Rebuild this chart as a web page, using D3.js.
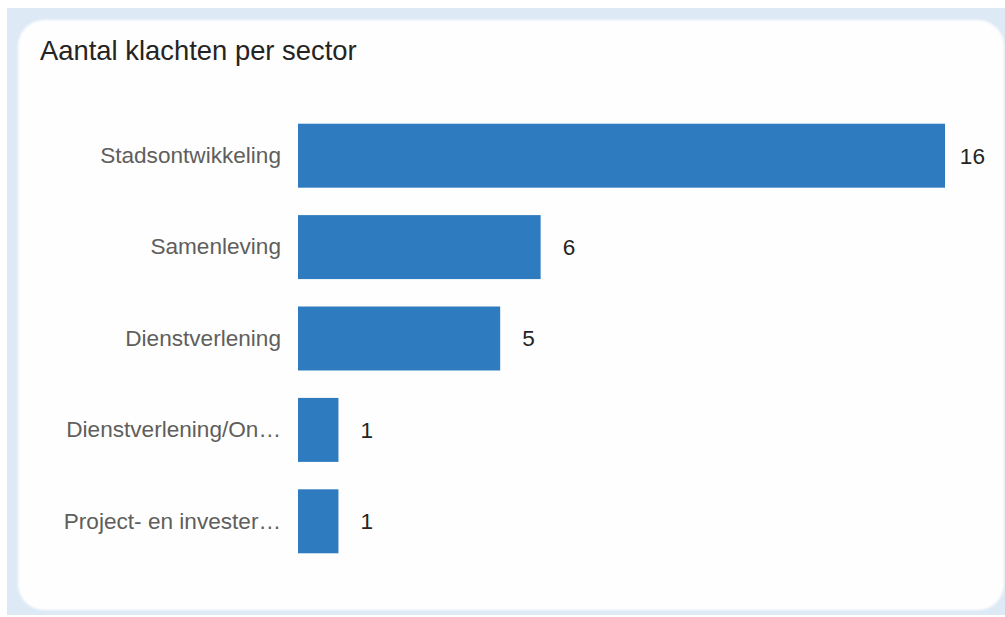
<!DOCTYPE html>
<html>
<head>
<meta charset="utf-8">
<script src="https://cdn.jsdelivr.net/npm/d3@7"></script>
<style>
  html, body { margin: 0; padding: 0; background: #ffffff; }
  svg { display: block; }
</style>
</head>
<body>
<svg id="chart" width="1005" height="617"></svg>
<script>
// Complaints per sector
const categories = [
  "Stadsontwikkeling",
  "Samenleving",
  "Dienstverlening",
  "Dienstverlening/On\u2026",
  "Project- en invester\u2026"
];
const values = [16, 6, 5, 1, 1];
const title = "Aantal klachten per sector";

const data = categories.map((c, i) => ({ category: c, value: values[i] }));

const W = 1005, H = 617;
const svg = d3.select("#chart");
const font = "'Liberation Sans', Arial, sans-serif";

// page backdrop and card
svg.append("rect").attr("x", 7).attr("y", 8).attr("width", W - 7).attr("height", 607)
  .attr("fill", "#dde9f5");

const defs = svg.append("defs");
const f = defs.append("filter").attr("id", "soft").attr("x", "-5%").attr("y", "-5%")
  .attr("width", "110%").attr("height", "110%");
f.append("feGaussianBlur").attr("stdDeviation", 1.2);

svg.append("rect").attr("x", 18).attr("y", 20).attr("width", 986).attr("height", 590)
  .attr("rx", 26).attr("ry", 26).attr("fill", "#fefefe").attr("filter", "url(#soft)");

svg.append("text")
  .attr("x", 40).attr("y", 60)
  .attr("font-family", font).attr("font-size", 27.4)
  .attr("fill", "#252423")
  .text(title);

const x = d3.scaleLinear().domain([0, d3.max(values)]).range([298, 945]);
const y = d3.scaleBand().domain(categories).range([110, 567])
  .paddingInner(0.3).paddingOuter(0.15);

// category axis
const yAxis = d3.axisLeft(y).tickSize(0).tickPadding(17);
const gy = svg.append("g").attr("transform", `translate(${x(0)},0)`).call(yAxis);
gy.select(".domain").remove();
gy.selectAll("text")
  .attr("font-family", font).attr("font-size", 22.6)
  .attr("fill", "#605e5c");

// bars
svg.append("g").selectAll("rect").data(data).join("rect")
  .attr("x", x(0))
  .attr("y", d => y(d.category))
  .attr("width", d => x(d.value) - x(0))
  .attr("height", y.bandwidth())
  .attr("fill", "#2e7bbf");

// value labels (kept inside the card)
const labelRight = 985;
svg.append("g").selectAll("text").data(data).join("text")
  .attr("font-family", font).attr("font-size", 22.6)
  .attr("fill", "#252423")
  .attr("dy", "0.35em")
  .attr("y", d => y(d.category) + y.bandwidth() / 2)
  .text(d => d.value)
  .attr("x", function(d) {
    const w = this.getComputedTextLength();
    return Math.min(x(d.value) + 22, labelRight - w);
  });
</script>
</body>
</html>
